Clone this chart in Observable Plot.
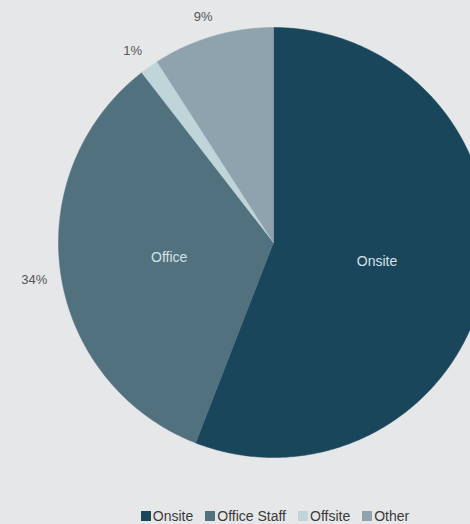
<!DOCTYPE html>
<html>
<head>
<meta charset="utf-8">
<script src="https://cdn.jsdelivr.net/npm/d3@7"></script>
<script src="https://cdn.jsdelivr.net/npm/@observablehq/plot@0.6"></script>
<style>
  html, body { margin: 0; padding: 0; background: #e6e7e9; }
  body { width: 470px; height: 524px; overflow: hidden; font-family: "Liberation Sans", Arial, sans-serif; }
  #chart svg { display: block; }
  .legend { display: flex; justify-content: center; gap: 12px; font-size: 14px; color: #3a3a3a; margin-top: 22px; padding-left: 80px; }
  .legend span.item { display: flex; align-items: center; }
  .legend span.sw { display: inline-block; width: 10px; height: 10px; margin-right: 2px; }
</style>
</head>
<body>
<div id="chart"></div>
<div class="legend" id="legend"></div>
<script>
const categories = ["Onsite", "Office Staff", "Offsite", "Other"];
const values = [55.9, 33.6, 1.4, 9.1];
const percentLabels = ["", "34%", "1%", "9%"];
const innerLabels = ["Onsite", "Office", "", ""];
const colors = ["#1a465c", "#52717f", "#c0d5da", "#8ea3ae"];

const total = d3.sum(values);
let acc = 0;
const slices = categories.map((c, i) => {
  const a0 = acc / total * 2 * Math.PI;
  acc += values[i];
  const a1 = acc / total * 2 * Math.PI;
  return {category: c, a0, a1, mid: (a0 + a1) / 2, i};
});

// polygon points in unit coordinates (angle clockwise from top)
const pts = [];
for (const s of slices) {
  pts.push({category: s.category, u: 0, v: 0});
  const n = Math.max(4, Math.ceil((s.a1 - s.a0) / 0.01));
  for (let k = 0; k <= n; k++) {
    const a = s.a0 + (s.a1 - s.a0) * k / n;
    pts.push({category: s.category, u: Math.sin(a), v: Math.cos(a)});
  }
  pts.push({category: s.category, u: 0, v: 0});
}

const outer = slices.filter(s => percentLabels[s.i]).map(s => ({label: percentLabels[s.i], u: 1.11 * Math.sin(s.mid), v: 1.11 * Math.cos(s.mid)}));
const inner = slices.filter(s => innerLabels[s.i]).map(s => ({label: innerLabels[s.i], u: 0.49 * Math.sin(s.mid), v: 0.49 * Math.cos(s.mid)}));

const chart = Plot.plot({
  width: 470,
  height: 486,
  margin: 0,
  style: {background: "transparent", fontFamily: "Liberation Sans, Arial, sans-serif"},
  x: {domain: [-1, 1], range: [58, 488], axis: null},
  y: {domain: [-1, 1], range: [457, 27], axis: null},
  color: {domain: categories, range: colors},
  marks: [
    Plot.line(pts, {x: "u", y: "v", z: "category", fill: "category", stroke: "category", strokeWidth: 0.5, curve: "linear-closed"}),
    Plot.text(outer, {x: "u", y: "v", text: "label", fill: "#555", fontSize: 13, dx: -3, dy: 3}),
    Plot.text(inner, {x: "u", y: "v", text: "label", fill: "#d5e1e5", fontSize: 14})
  ]
});
document.getElementById("chart").appendChild(chart);

const legend = document.getElementById("legend");
categories.forEach((c, i) => {
  const item = document.createElement("span");
  item.className = "item";
  const sw = document.createElement("span");
  sw.className = "sw";
  sw.style.background = colors[i];
  item.appendChild(sw);
  item.appendChild(document.createTextNode(c));
  legend.appendChild(item);
});
</script>
</body>
</html>
